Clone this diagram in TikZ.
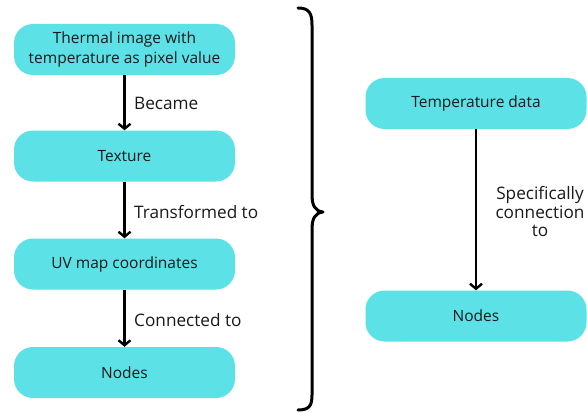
\documentclass[tikz,border=0pt]{standalone}
\usepackage{fontspec}
\setmainfont{Open Sans}
\usetikzlibrary{arrows.meta}
\definecolor{boxcyan}{HTML}{5CE1E6}
\definecolor{ink}{HTML}{1A1A1A}
\tikzset{
  flowbox/.style={fill=boxcyan, draw=none, rounded corners=19pt, minimum width=221pt, minimum height=51pt, align=center, text=ink, font=\fontsize{15.5}{20.5}\selectfont, inner sep=0pt},
  flowarrow/.style={line width=2.4pt, draw=black, -{Straight Barb[length=5pt,width=12pt,line width=2.4pt]}},
  flowlabel/.style={text=ink, font=\fontsize{17.2}{18.5}\selectfont, inner sep=0pt},
  bracestroke/.style={line width=3pt, draw=black, line cap=round, line join=round}
}
\begin{document}
\begin{tikzpicture}[x=1pt,y=-1pt]
\useasboundingbox (0,0) rectangle (587,412);
\fill[white] (0,0) rectangle (587,412);
% left column
\node[flowbox] (thermal) at (124.5,49.5) {Thermal image with\\temperature as pixel value};
\node[flowbox] (texture) at (124.5,156) {Texture};
\node[flowbox] (uv) at (124.5,264) {UV map coordinates};
\node[flowbox] (nodesL) at (124.5,372.5) {Nodes};
\draw[flowarrow] (thermal) -- (texture);
\draw[flowarrow] (texture) -- (uv);
\draw[flowarrow] (uv) -- (nodesL);
\node[flowlabel, anchor=west] (lab1) at (134,103) {Became};
\node[flowlabel, anchor=west] (lab2) at (134,212) {Transformed to};
\node[flowlabel, anchor=west] (lab3) at (134,320) {Connected to};
% brace
\coordinate (btop) at (298,8);
\coordinate (btip) at (323,212);
\coordinate (bbot) at (298,410);
\draw[bracestroke] (btop) .. controls (309,8) and (312,13) .. (312,25) -- (312,194)
  .. controls (312,206) and (315,211) .. (btip)
  .. controls (315,213) and (312,218) .. (312,230) -- (312,395)
  .. controls (312,406) and (309,410) .. (bbot);
% right column
\node[flowbox] (temp) at (476,103.5) {Temperature data};
\node[flowbox] (nodesR) at (476,316) {Nodes};
\draw[flowarrow] (temp) -- (nodesR);
\node[flowlabel, align=center] (lab4) at (540,212) {Specifically\\connection\\to};
\end{tikzpicture}
\end{document}
